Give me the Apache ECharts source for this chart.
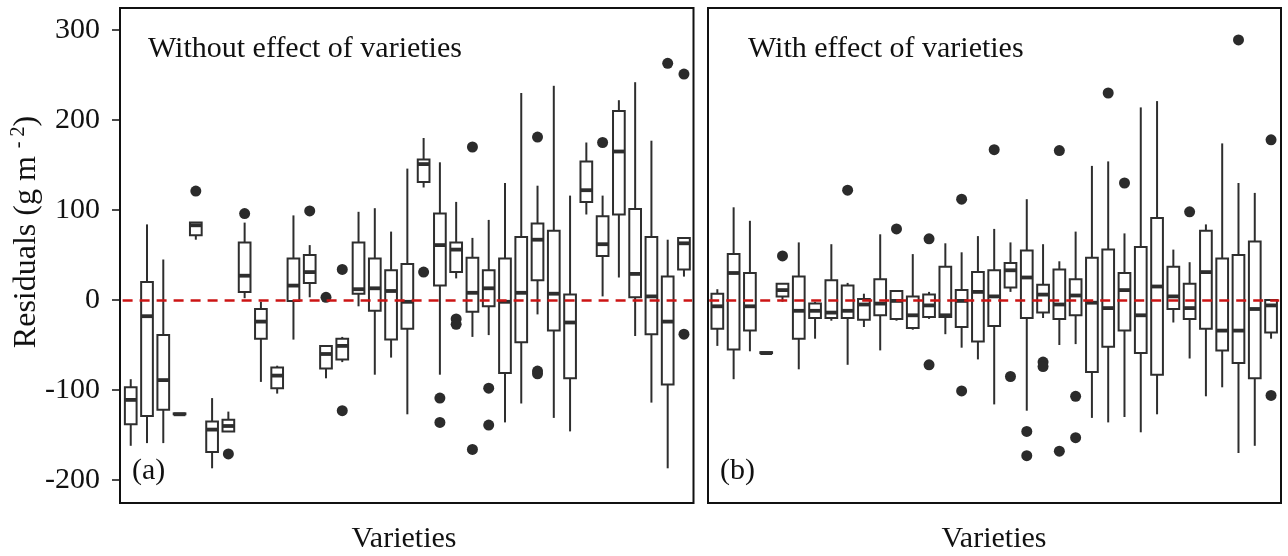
<!DOCTYPE html>
<html>
<head>
<meta charset="utf-8">
<script src="https://cdn.jsdelivr.net/npm/echarts@6/dist/echarts.min.js"></script>
<style>html,body{margin:0;padding:0;background:#fff}#c{width:1288px;height:556px}</style>
</head>
<body>
<div id="c"></div>
<script>
// ---- data ----
const varieties = ['V1','V2','V3','V4','V5','V6','V7','V8','V9','V10','V11','V12','V13','V14','V15','V16','V17','V18','V19','V20','V21','V22','V23','V24','V25','V26','V27','V28','V29','V30','V31','V32','V33','V34','V35'];
const yTicks = [-200, -100, 0, 100, 200, 300];

// [min, q1, median, q3, max] per variety, panel (a) without effect of varieties
const statsA = [
  [-162,-138,-111,-97,-88],
  [-159,-129,-18,20,84],
  [-159,-122,-89,-39,45],
  [-127,-127,-127,-126,-126],
  [67,72,83,86,86],
  [-187,-169,-144,-135,-109],
  [-146,-146,-140,-133,-124],
  [2,9,27,64,86],
  [-91,-43,-24,-10,-2],
  [-104,-98,-84,-75,-73],
  [-44,-1,16,46,94],
  [3,19,31,50,61],
  [-87,-76,-60,-51,-51],
  [-69,-66,-51,-43,-41],
  [-7,7,12,64,98],
  [-83,-12,13,46,102],
  [-64,-44,10,33,76],
  [-127,-32,-2,40,146],
  [125,131,151,156,180],
  [-83,16,61,96,153],
  [24,31,56,64,109],
  [-41,-13,8,47,69],
  [-39,-7,13,33,89],
  [-136,-81,-2,46,130],
  [-115,-47,8,70,230],
  [-16,22,67,85,127],
  [-131,-34,7,77,238],
  [-146,-87,-25,6,116],
  [95,109,122,154,175],
  [4,49,62,93,116],
  [25,95,165,210,222],
  [-40,3,29,101,242],
  [-114,-38,4,70,177],
  [-187,-94,-24,26,67],
  [26,34,63,69,69]
];
// outliers panel (a): [variety, value]
const outliersA = [
  ['V5',121],['V7',-171],['V8',96],['V12',99],['V13',3],['V14',34],['V14',-123],
  ['V19',31],['V20',-109],['V20',-136],['V21',-21],['V21',-27],['V22',170],['V22',-166],
  ['V23',-98],['V23',-139],['V26',181],['V26',-79],['V26',-82],['V30',175],['V34',263],
  ['V35',251],['V35',-38]
];

// panel (b) with effect of varieties
const statsB = [
  [-51,-32,-7,7,12],
  [-88,-55,30,51,103],
  [-57,-34,-7,30,88],
  [-59,-59,-59,-58,-58],
  [-2,4,11,18,18],
  [-77,-43,-12,26,64],
  [-43,-20,-12,-4,-2],
  [-23,-20,-14,22,62],
  [-72,-20,-12,16,19],
  [-30,-22,-5,1,7],
  [-56,-17,-4,23,73],
  [-23,-21,-1,10,10],
  [-33,-31,-17,4,51],
  [-21,-19,-6,6,9],
  [-38,-19,-17,37,63],
  [-53,-30,-1,11,53],
  [-66,-46,9,31,71],
  [-116,-29,4,33,79],
  [9,14,33,41,64],
  [-123,-20,25,55,112],
  [-20,-14,6,17,62],
  [-50,-21,-5,34,43],
  [-49,-17,5,23,76],
  [-131,-80,-3,47,149],
  [-136,-52,-9,56,154],
  [-130,-34,11,30,74],
  [-147,-59,-17,59,214],
  [-127,-83,15,91,221],
  [-25,-10,4,37,56],
  [-65,-21,-9,18,42],
  [-107,-32,31,77,84],
  [-97,-56,-34,46,174],
  [-170,-70,-34,50,130],
  [-162,-87,-10,65,119],
  [-43,-36,-6,0,0]
];
const outliersB = [
  ['V5',49],['V9',122],['V12',79],['V14',68],['V14',-72],['V16',112],['V16',-101],
  ['V18',167],['V19',-85],['V20',-146],['V20',-173],['V21',-69],['V21',-74],
  ['V22',166],['V22',-168],['V23',-107],['V23',-153],['V25',230],['V26',130],
  ['V30',98],['V33',289],['V35',178],['V35',-106]
];

// ---- chart ----
const INK = '#2e2e2e';
const SERIF = '"Liberation Serif", "Times New Roman", serif';

function boxRows(stats) {
  return stats.map((s, i) => [varieties[i]].concat(s));
}

function renderBox(params, api) {
  const idx = api.value(0);
  const lo = api.coord([idx, api.value(1)]);
  const q1 = api.coord([idx, api.value(2)]);
  const med = api.coord([idx, api.value(3)]);
  const q3 = api.coord([idx, api.value(4)]);
  const hi = api.coord([idx, api.value(5)]);
  const bw = api.size([1, 0])[0] * 0.72;
  const x = lo[0];
  const lw = 2;
  return {
    type: 'group',
    children: [
      {type: 'line', shape: {x1: x, y1: hi[1], x2: x, y2: q3[1]}, style: {stroke: INK, lineWidth: lw}},
      {type: 'line', shape: {x1: x, y1: q1[1], x2: x, y2: lo[1]}, style: {stroke: INK, lineWidth: lw}},
      {type: 'rect', shape: {x: x - bw / 2, y: q3[1], width: bw, height: q1[1] - q3[1]},
        style: {fill: '#ffffff', stroke: INK, lineWidth: lw}},
      {type: 'line', shape: {x1: x - bw / 2, y1: med[1], x2: x + bw / 2, y2: med[1]},
        style: {stroke: INK, lineWidth: 3.8}}
    ]
  };
}

const chart = echarts.init(document.getElementById('c'), null, {renderer: 'canvas'});

const dataGrids = [
  {left: 122.6, top: 30, width: 569.5, height: 450},
  {left: 709.2, top: 30, width: 570, height: 450}
];
const borderGrids = [
  {left: 120, top: 8, width: 573.5, height: 495, show: true, borderColor: '#111', borderWidth: 2, backgroundColor: 'transparent'},
  {left: 708, top: 8, width: 573, height: 495, show: true, borderColor: '#111', borderWidth: 2, backgroundColor: 'transparent'}
];

function catAxis(gi) {
  return {type: 'category', gridIndex: gi, data: varieties, boundaryGap: true,
    axisLine: {show: false}, axisTick: {show: false}, axisLabel: {show: false}, splitLine: {show: false}};
}
function valAxis(gi, showLabels) {
  return {type: 'value', gridIndex: gi, min: yTicks[0], max: yTicks[yTicks.length - 1], interval: 100,
    offset: 2.6,
    axisLine: {show: false},
    axisTick: {show: showLabels, length: 8, lineStyle: {color: '#111', width: 1.5}},
    axisLabel: {show: showLabels, fontSize: 30, fontFamily: SERIF, color: '#111', margin: 20},
    splitLine: {show: false}};
}
function hiddenAxis(type, gi) {
  return {type: 'value', gridIndex: gi, show: false, min: 0, max: 1};
}

function zeroLine(gi) {
  return {
    type: 'line', xAxisIndex: gi, yAxisIndex: gi, data: [], z: 10, silent: true,
    markLine: {
      silent: true, symbol: ['none', 'none'], label: {show: false},
      lineStyle: {color: '#cc1414', type: [10, 7], width: 2.5},
      data: [{yAxis: 0}]
    }
  };
}

const option = {
  animation: false,
  backgroundColor: '#ffffff',
  grid: [dataGrids[0], dataGrids[1], borderGrids[0], borderGrids[1]],
  xAxis: [catAxis(0), catAxis(1), hiddenAxis('x', 2), hiddenAxis('x', 3)],
  yAxis: [valAxis(0, true), valAxis(1, false), hiddenAxis('y', 2), hiddenAxis('y', 3)],
  series: [
    {type: 'custom', xAxisIndex: 0, yAxisIndex: 0, renderItem: renderBox, data: boxRows(statsA),
      encode: {x: 0, y: [1, 2, 3, 4, 5]}, z: 3},
    {type: 'scatter', xAxisIndex: 0, yAxisIndex: 0, data: outliersA, symbolSize: 11,
      itemStyle: {color: '#2b2b2b', opacity: 1}, z: 4},
    zeroLine(0),
    {type: 'custom', xAxisIndex: 1, yAxisIndex: 1, renderItem: renderBox, data: boxRows(statsB),
      encode: {x: 0, y: [1, 2, 3, 4, 5]}, z: 3},
    {type: 'scatter', xAxisIndex: 1, yAxisIndex: 1, data: outliersB, symbolSize: 11,
      itemStyle: {color: '#2b2b2b', opacity: 1}, z: 4},
    zeroLine(1)
  ],
  graphic: [
    {type: 'text', x: 148, y: 49, style: {text: 'Without effect of varieties', font: '30px ' + SERIF, fill: '#111', align: 'left', verticalAlign: 'middle'}},
    {type: 'text', x: 748, y: 49, style: {text: 'With effect of varieties', font: '30px ' + SERIF, fill: '#111', align: 'left', verticalAlign: 'middle'}},
    {type: 'text', x: 132, y: 471, style: {text: '(a)', font: '30px ' + SERIF, fill: '#111', align: 'left', verticalAlign: 'middle'}},
    {type: 'text', x: 720, y: 471, style: {text: '(b)', font: '30px ' + SERIF, fill: '#111', align: 'left', verticalAlign: 'middle'}},
    {type: 'text', x: 404, y: 539, style: {text: 'Varieties', font: '30px ' + SERIF, fill: '#111', align: 'center', verticalAlign: 'middle'}},
    {type: 'text', x: 994, y: 539, style: {text: 'Varieties', font: '30px ' + SERIF, fill: '#111', align: 'center', verticalAlign: 'middle'}},
    {type: 'text', x: 27, y: 232, rotation: Math.PI / 2,
      style: {
        text: '{m|Residuals (g m }{s|- 2}{m|)}',
        align: 'center', verticalAlign: 'middle',
        rich: {
          m: {fontSize: 32, fontFamily: SERIF, fill: '#111', color: '#111', lineHeight: 36},
          s: {fontSize: 20, fontFamily: SERIF, fill: '#111', color: '#111', lineHeight: 20, verticalAlign: 'top'}
        }
      }}
  ]
};
chart.setOption(option);
</script>
</body>
</html>
